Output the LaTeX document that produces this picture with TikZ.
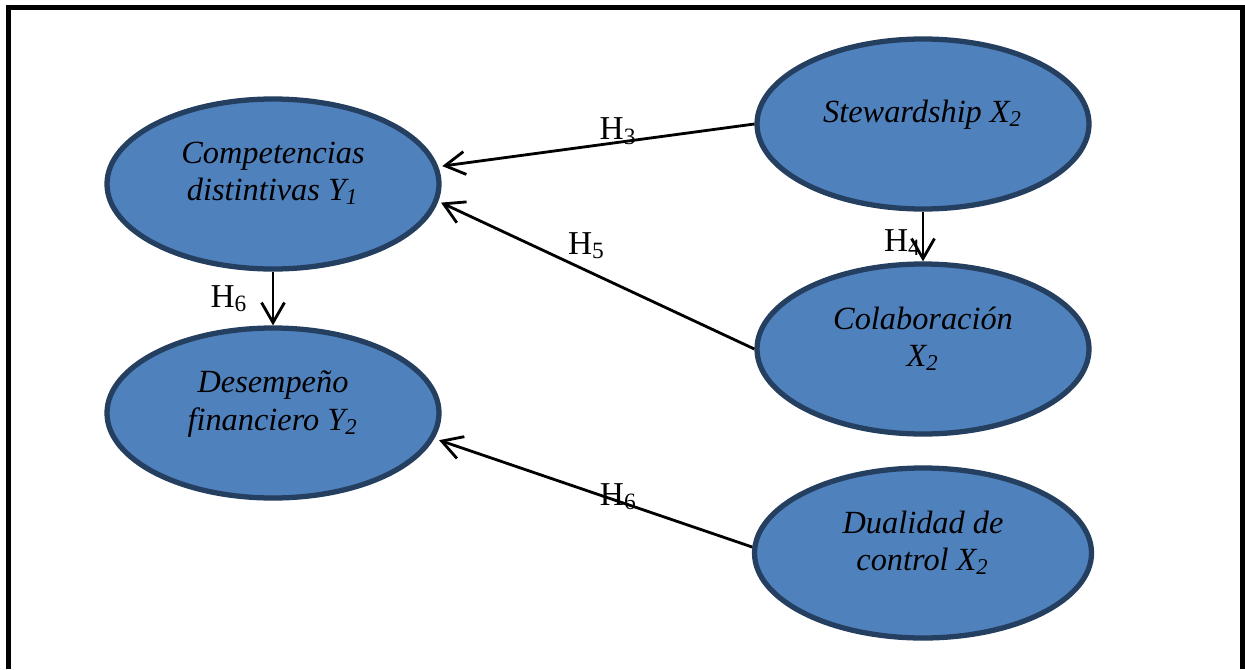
\documentclass[tikz,border=0pt]{standalone}
\usepackage{fontspec}
\setmainfont{Liberation Serif}
\usetikzlibrary{arrows.meta,shapes.geometric,positioning}
\definecolor{ovalfill}{HTML}{4F81BD}
\definecolor{ovaledge}{HTML}{243F60}

\begin{document}
\begin{tikzpicture}
                \tikzset{Construct/.style={%
                    shape=ellipse,%
                    draw=ovaledge,%
                    fill=ovalfill,%
                    line width=1.5pt,%
                    minimum width=3.32cm,%
                    minimum height=1.70cm,%
                    inner sep=0pt,%
                    align=center,%
                    text depth=0.25cm,%
                    font=\fontsize{9.2}{10.6}\selectfont\itshape,%
                }}
                \tikzset{Path/.style={%
                    -{Straight Barb[length=2mm,width=2.3mm]},%
                    line width=0.8pt,%
                }}
                \tikzset{Hyp/.style={%
                    font=\fontsize{9.5}{11}\selectfont,%
                    inner sep=1pt,%
                }}

                \useasboundingbox (0,0) rectangle (12.45,6.69);
                \draw[line width=1.4pt] (0.085,0) |- (12.425,6.615) -- (12.425,0);

                \node[Construct] (comp) at (2.73,4.85) {Competencias\\distintivas Y\textsubscript{1}};
                \node[Construct] (desem) at (2.73,2.56) {Desempeño\\financiero Y\textsubscript{2}};
                \node[Construct] (stew) at (9.23,5.45) {Stewardship X\textsubscript{2}};
                \node[Construct] (colab) at (9.23,3.20) {Colaboración\\X\textsubscript{2}};
                \node[Construct, minimum width=3.37cm] (dual) at (9.23,1.16) {Dualidad de\\control X\textsubscript{2}};

                \path (stew.west) edge[Path, shorten >=0.04cm] node[Hyp, pos=0.43, above=-2pt] (h3) {H\textsubscript{3}} (comp.6);
                \path (colab.west) edge[Path, shorten >=0.03cm] node[Hyp, pos=0.53, above=0.07cm] (h5) {H\textsubscript{5}} (comp.-6);
                \path (stew.south) edge[Path] node[Hyp, pos=0.62, left=-1pt] (h4) {H\textsubscript{4}} (colab.north);
                \path (comp.south) edge[Path] node[Hyp, pos=0.5, left=0.2cm] (h6a) {H\textsubscript{6}} (desem.north);
                \path (dual.178) edge[Path, shorten >=0.05cm] node[Hyp, pos=0.42, yshift=0.05cm] (h6b) {H\textsubscript{6}} (desem.-9);
            \end{tikzpicture}
\end{document}
